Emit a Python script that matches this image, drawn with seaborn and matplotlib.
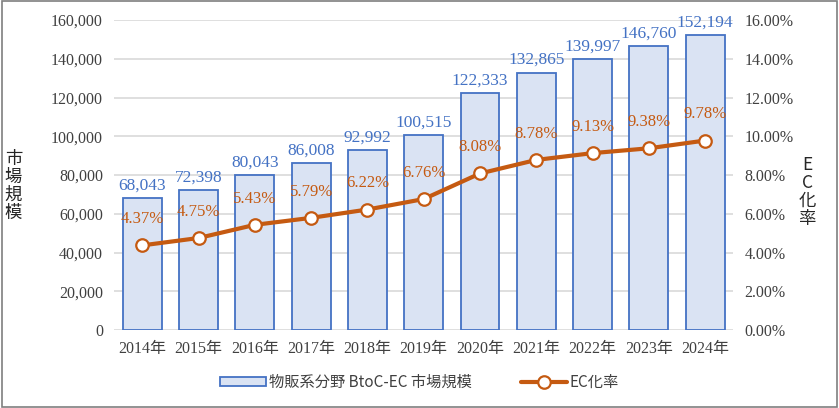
import pandas as pd
import seaborn as sns
import matplotlib.pyplot as plt
from matplotlib.patches import Rectangle
from matplotlib.ticker import FuncFormatter

# Chart data
years = ["2014年", "2015年", "2016年", "2017年", "2018年", "2019年",
         "2020年", "2021年", "2022年", "2023年", "2024年"]
market_size = [68043, 72398, 80043, 86008, 92992, 100515,
               122333, 132865, 139997, 146760, 152194]
ec_rate = [4.37, 4.75, 5.43, 5.79, 6.22, 6.76, 8.08, 8.78, 9.13, 9.38, 9.78]

df = pd.DataFrame({"year": years, "size": market_size, "rate": ec_rate})

sns.set_style("white")
jp_serif = ["Liberation Serif", "Noto Sans CJK JP"]
jp_sans = ["Noto Sans CJK JP", "DejaVu Sans"]
plt.rcParams["font.family"] = jp_serif

bar_blue = "#4472c4"
bar_fill = "#dae3f3"
line_orange = "#c55a11"

fig = plt.figure(figsize=(8.39, 4.08), dpi=100)
ax = fig.add_axes([0.136, 0.191, 0.738, 0.760])

# Bars - market size
sns.barplot(data=df, x="year", y="size", ax=ax, color=bar_fill,
            edgecolor=bar_blue, linewidth=1.3, width=0.69, saturation=1,
            label="物販系分野 BtoC-EC 市場規模", zorder=2)
ax.set_ylim(0, 160000)
ax.set_yticks(range(0, 160001, 20000))
ax.yaxis.set_major_formatter(FuncFormatter(lambda v, p: f"{int(v):,}"))
ax.grid(axis="y", color="#d9d9d9", linewidth=1.2, zorder=0)
ax.set_axisbelow(True)
for s in ax.spines.values():
    s.set_visible(False)
ax.tick_params(axis="both", length=0, labelsize=11.5, colors="#404040")
ax.tick_params(axis="y", pad=8)
ax.tick_params(axis="x", pad=8)
ax.set_xlabel("")
ax.set_ylabel("")

for i, v in enumerate(market_size):
    ax.text(i, v + 2300, f"{v:,}", ha="center", va="bottom",
            color=bar_blue, fontsize=12.5)

# Line - EC rate
ax2 = ax.twinx()
sns.lineplot(data=df, x="year", y="rate", ax=ax2, color=line_orange,
             linewidth=3, marker="o", markersize=9, markerfacecolor="white",
             markeredgecolor=line_orange, markeredgewidth=1.6,
             label="EC化率", legend=False, zorder=5)
ax2.set_ylim(0, 16)
ax2.set_yticks(range(0, 17, 2))
ax2.yaxis.set_major_formatter(FuncFormatter(lambda v, p: f"{v:.2f}%"))
for s in ax2.spines.values():
    s.set_visible(False)
ax2.tick_params(axis="y", length=0, labelsize=11.5, colors="#404040", pad=8)
ax2.set_ylabel("")
ax2.set_xlabel("")

for i, v in enumerate(ec_rate):
    ax2.annotate(f"{v:.2f}%", (i, v), xytext=(0, 13), textcoords="offset points",
                 ha="center", va="bottom", color=line_orange, fontsize=12)

ax.set_xlim(-0.5, len(years) - 0.5)

# Axis titles (stacked vertical text)
fig.text(0.016, 0.545, "市\n場\n規\n模", ha="center", va="center",
         fontsize=12.5, family=jp_sans, linespacing=1.0)
fig.text(0.962, 0.53, "E\nC\n化\n率", ha="center", va="center",
         fontsize=12.5, family=jp_sans, linespacing=1.0)

# Legend
h1, l1 = ax.get_legend_handles_labels()
h2, l2 = ax2.get_legend_handles_labels()
if ax.get_legend():
    ax.get_legend().remove()
leg = fig.legend(h1 + h2, l1 + l2, loc="center", bbox_to_anchor=(0.5, 0.063),
                 ncol=2, frameon=False, prop={"family": jp_sans, "size": 11},
                 handlelength=3.0, handleheight=0.55, columnspacing=3.2,
                 handletextpad=0.2)
for t in leg.get_texts():
    t.set_color("#404040")

# Outer border
fig.patches.append(Rectangle((0.002, 0.003), 0.996, 0.994, transform=fig.transFigure,
                             fill=False, edgecolor="#7f7f7f", linewidth=1.2))

fig.savefig("out.png", dpi=100)
